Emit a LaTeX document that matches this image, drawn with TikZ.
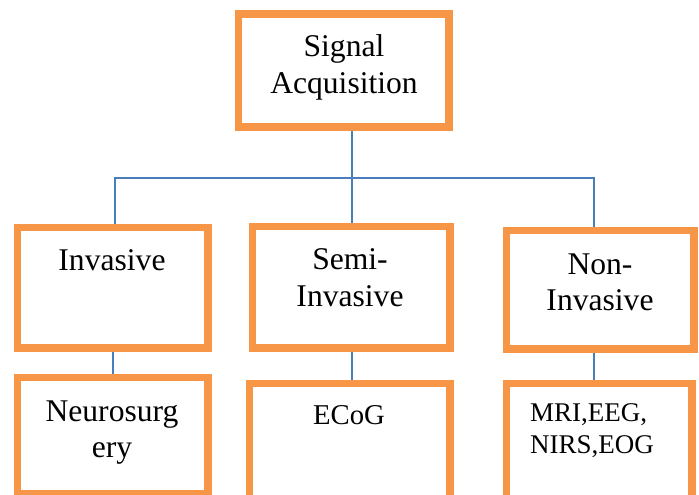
\documentclass[tikz,border=0pt]{standalone}
\usepackage{fontspec}
\setmainfont{Liberation Serif}
\definecolor{boxorange}{HTML}{F79646}
\definecolor{linkblue}{HTML}{4A7EBB}
\begin{document}
\begin{tikzpicture}[x=1pt,y=-1pt,
  box/.style={draw=boxorange,line width=5pt,fill=white,inner sep=0pt,rectangle},
  conn/.style={draw=linkblue,line width=1.8pt},
  big/.style={font=\fontsize{31.6}{36.5}\selectfont,inner sep=0pt,anchor=base},
  mid/.style={font=\fontsize{28.7}{33}\selectfont,inner sep=0pt,anchor=base},
  small/.style={font=\fontsize{27}{31}\selectfont,inner sep=0pt,anchor=base west}]
\useasboundingbox (0,0) rectangle (699,495);
\clip (0,0) rectangle (699,495);
\fill[white] (0,0) rectangle (699,495);
% junction coordinates
\coordinate (j) at (352,178);
\coordinate (jL) at (115,178);
\coordinate (jR) at (594,178);
\coordinate (xi) at (113,0);
% boxes (centres and sizes in px)
\node[box,minimum width=208pt,minimum height=110pt] (top) at (343.5,70.5) {};
\node[box,minimum width=188pt,minimum height=118pt] (inv) at (112.5,287.5) {};
\node[box,minimum width=195pt,minimum height=119pt] (semi) at (351,287) {};
\node[box,minimum width=185pt,minimum height=116pt] (non) at (600,289.5) {};
\node[box,minimum width=188pt,minimum height=114pt] (neuro) at (112.5,435.5) {};
\node[box,minimum width=198pt,minimum height=156pt] (ecog) at (349.5,462.5) {};
\node[box,minimum width=183pt,minimum height=156pt] (mri) at (599,462.5) {};
% connectors
\begin{scope}[on background layer/.style={}]
\draw[conn] (top.south -| j) -- (j);
\draw[conn] (inv.north -| jL) -- (jL) -- (jR) -- (non.north -| jR);
\draw[conn] (j) -- (semi.north -| j);
\draw[conn] (inv.south -| xi) -- (neuro.north -| xi);
\draw[conn] (semi.south -| j) -- (ecog.north -| j);
\draw[conn] (non.south -| jR) -- (mri.north -| jR);
\end{scope}
% redraw box borders over connector ends
\foreach \b in {top,inv,semi,non,neuro,ecog,mri}{
  \draw[boxorange,line width=5pt] (\b.north west) rectangle (\b.south east);
}
% texts
\node[big] (t1) at (344,57) {Signal};
\node[big] (t2) at (344,94) {Acquisition};
\node[big] (t3) at (112,270) {Invasive};
\node[big] (t4) at (350,269) {Semi-};
\node[big] (t5) at (350,306.5) {Invasive};
\node[big] (t6) at (600,274) {Non-};
\node[big] (t7) at (600,310) {Invasive};
\node[big] (t8) at (112,421) {Neurosurg};
\node[big] (t9) at (112,457) {ery};
\node[mid] (t10) at (349,424) {ECoG};
\node[small] (t11) at (530,421.7) {MRI,EEG,};
\node[small] (t12) at (530,453) {NIRS,EOG};
\end{tikzpicture}
\end{document}
